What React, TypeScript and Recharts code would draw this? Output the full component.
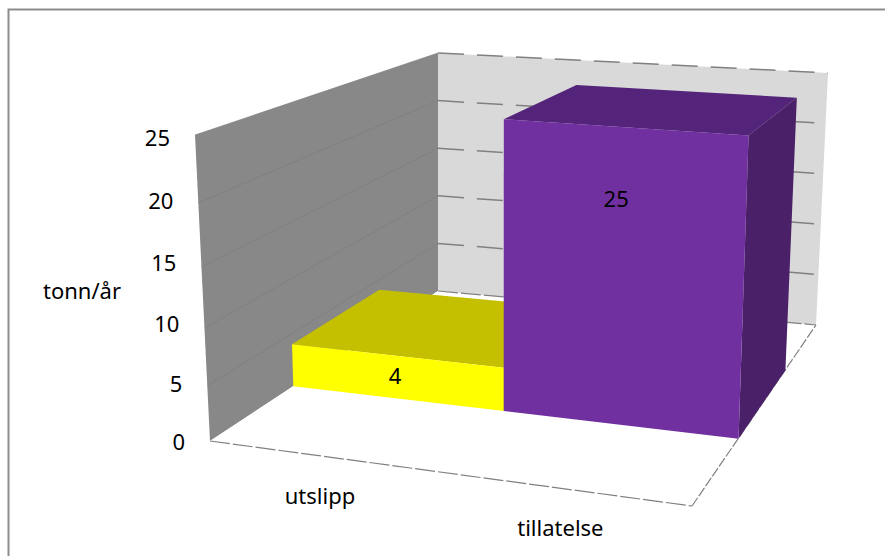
import React from 'react';
import { BarChart, Bar, XAxis, YAxis, LabelList, Customized } from 'recharts';

const categories = ['utslipp', 'tillatelse'];
const values = [4, 25];
const yTicks = [0, 5, 10, 15, 20, 25];
const yTitle = 'tonn/år';

const frontColors = ['#ffff00', '#7030a0'];
const topColors = ['#c4c000', '#54247a'];
const sideColors = ['#a8a400', '#4a2068'];

const data = categories.map((name, i) => ({ name, value: values[i] }));

const WIDTH = 885;
const HEIGHT = 556;
const PLOT = { left: 195, right: 828, top: 137, bottom: 441 };
const PLOT_W = PLOT.right - PLOT.left;
const PLOT_H = PLOT.bottom - PLOT.top;
const FONT = '"Noto Sans", sans-serif';
const FONT_SIZE = 22;

type Pt = [number, number];

// unit square -> quad, corners in order (0,0) (1,0) (1,1) (0,1)
const makeHomography = (q: Pt[]) => {
  const [[x0, y0], [x1, y1], [x2, y2], [x3, y3]] = q;
  const dx1 = x1 - x2;
  const dx2 = x3 - x2;
  const sx = x0 - x1 + x2 - x3;
  const dy1 = y1 - y2;
  const dy2 = y3 - y2;
  const sy = y0 - y1 + y2 - y3;
  const den = dx1 * dy2 - dx2 * dy1;
  const g = (sx * dy2 - dx2 * sy) / den;
  const h = (dx1 * sy - sx * dy1) / den;
  const a = x1 - x0 + g * x1;
  const b = x3 - x0 + h * x3;
  const d = y1 - y0 + g * y1;
  const e = y3 - y0 + h * y3;
  return (u: number, v: number): Pt => {
    const w = g * u + h * v + 1;
    return [(a * u + b * v + x0) / w, (d * u + e * v + y0) / w];
  };
};

// box of the 3D scene: floor plane and the plane at the axis maximum
const floor = makeHomography([[210, 441], [692, 506], [816, 325], [438, 291]]);
const ceiling = makeHomography([[195, 135], [700, 173], [828, 73], [438, 53]]);

// u: along the category axis, d: depth front to back, f: share of the value axis
const project = (u: number, d: number, f: number): Pt => {
  const a = 0.88 + 0.12 * d;
  const t = (f * a) / (1 - f + f * a);
  const p0 = floor(u, d);
  const p1 = ceiling(u, d);
  return [p0[0] + (p1[0] - p0[0]) * t, p0[1] + (p1[1] - p0[1]) * t];
};

const BAR_FRONT = 0.305;
const BAR_BACK = 0.69;

const toPoints = (pts: Pt[]) => pts.map((p) => `${p[0]},${p[1]}`).join(' ');
const uOf = (x: number) => (x - PLOT.left) / PLOT_W;
const fOf = (y: number) => (PLOT.bottom - y) / PLOT_H;

const DASH = { stroke: '#808080', strokeWidth: 1.5, strokeDasharray: '26 13', fill: 'none' };
const FLOOR_DASH = { stroke: '#808080', strokeWidth: 1.2, strokeDasharray: '20 3', fill: 'none' };

const Line3D = ({ a, b, ...rest }: { a: Pt; b: Pt; [k: string]: unknown }) => (
  <line x1={a[0]} y1={a[1]} x2={b[0]} y2={b[1]} {...rest} />
);

// frame, walls, floor edges and gridlines behind the bars
const Room = () => (
  <g>
    <rect x={8.5} y={9.5} width={WIDTH} height={HEIGHT} fill="#fff" stroke="#8c8c8c" strokeWidth={2} />
    <polygon
      points={toPoints([project(0, 1, 0), project(1, 1, 0), project(1, 1, 1), project(0, 1, 1)])}
      fill="#d9d9d9"
    />
    <polygon
      points={toPoints([project(0, 0, 0), project(0, 1, 0), project(0, 1, 1), project(0, 0, 1)])}
      fill="#888888"
    />
    <polygon
      points={toPoints([project(0, 0, 0), project(1, 0, 0), project(1, 1, 0), project(0, 1, 0)])}
      fill="#ffffff"
    />
    {yTicks.slice(1).map((t) => (
      <g key={t}>
        <Line3D a={project(0, 1, t / 25)} b={project(1, 1, t / 25)} {...DASH} />
        <Line3D
          a={project(0, 0, t / 25)}
          b={project(0, 1, t / 25)}
          stroke="#7c7c7c"
          strokeWidth={1}
          strokeOpacity={0.6}
        />
      </g>
    ))}
    <Line3D a={project(0, 1, 0)} b={project(1, 1, 0)} {...FLOOR_DASH} />
    <Line3D a={project(0, 0, 0)} b={project(1, 0, 0)} {...FLOOR_DASH} />
    <Line3D a={project(1, 0, 0)} b={project(1, 1, 0)} {...FLOOR_DASH} strokeDasharray="10 2" />
    <text
      x={82}
      y={290}
      textAnchor="middle"
      dominantBaseline="central"
      fontFamily={FONT}
      fontSize={FONT_SIZE}
      fill="#000"
    >
      {yTitle}
    </text>
  </g>
);

const Box3D = (props: any) => {
  const { x, width, height, index } = props;
  const u0 = uOf(x);
  const u1 = uOf(x + width);
  const f = height / PLOT_H;
  return (
    <g>
      <polygon
        points={toPoints([
          project(u0, BAR_FRONT, f),
          project(u1, BAR_FRONT, f),
          project(u1, BAR_BACK, f),
          project(u0, BAR_BACK, f),
        ])}
        fill={topColors[index]}
      />
      <polygon
        points={toPoints([
          project(u1, BAR_FRONT, 0),
          project(u1, BAR_BACK, 0),
          project(u1, BAR_BACK, f),
          project(u1, BAR_FRONT, f),
        ])}
        fill={sideColors[index]}
      />
      <polygon
        points={toPoints([
          project(u0, BAR_FRONT, 0),
          project(u1, BAR_FRONT, 0),
          project(u1, BAR_FRONT, f),
          project(u0, BAR_FRONT, f),
        ])}
        fill={frontColors[index]}
      />
    </g>
  );
};

const ValueLabel = (props: any) => {
  const { x, width, height, value } = props;
  const u = uOf(x + width / 2);
  const f = height / PLOT_H;
  const top = project(u, BAR_FRONT, f);
  return (
    <text
      x={top[0] + 1 - 0.025 * height}
      y={top[1] + 9 + 0.205 * height}
      textAnchor="middle"
      dominantBaseline="central"
      fontFamily={FONT}
      fontSize={FONT_SIZE}
      fill="#000"
    >
      {value}
    </text>
  );
};

const ValueTick = (props: any) => {
  const { y, payload } = props;
  const f = fOf(y);
  const pos = project(0, 0, f);
  // tick text sags a little towards mid axis, as the wall edge does
  return (
    <text
      x={pos[0] - 25}
      y={y + 16 * f * (1 - f)}
      textAnchor="end"
      dominantBaseline="central"
      fontFamily={FONT}
      fontSize={FONT_SIZE}
      fill="#000"
    >
      {payload.value}
    </text>
  );
};

const CategoryTick = (props: any) => {
  const { x, payload } = props;
  const pos = project(uOf(x), 0, 0);
  return (
    <text
      x={pos[0]}
      y={pos[1] + 39}
      textAnchor="middle"
      dominantBaseline="central"
      fontFamily={FONT}
      fontSize={FONT_SIZE}
      fill="#000"
    >
      {payload.value}
    </text>
  );
};

export default function App() {
  return (
    <div style={{ position: 'absolute', left: 0, top: 0, width: WIDTH, height: HEIGHT, overflow: 'hidden', background: '#fff' }}>
      <BarChart
        width={WIDTH}
        height={HEIGHT}
        data={data}
        barCategoryGap={0}
        margin={{ top: PLOT.top, bottom: HEIGHT - PLOT.bottom - 30, left: PLOT.left - 60, right: WIDTH - PLOT.right }}
      >
        <Customized component={Room} />
        <XAxis dataKey="name" height={30} axisLine={false} tickLine={false} interval={0} tick={<CategoryTick />} />
        <YAxis width={60} domain={[0, 25]} ticks={yTicks} axisLine={false} tickLine={false} tick={<ValueTick />} />
        <Bar dataKey="value" isAnimationActive={false} shape={<Box3D />}>
          <LabelList dataKey="value" content={<ValueLabel />} />
        </Bar>
      </BarChart>
    </div>
  );
}
